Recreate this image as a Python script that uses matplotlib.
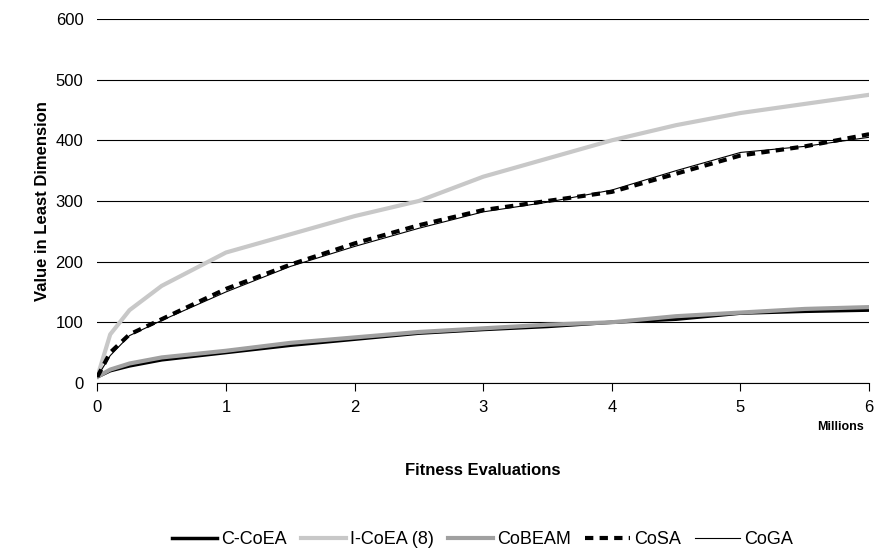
import matplotlib
matplotlib.use('Agg')
import matplotlib.pyplot as plt

plt.rcParams['font.family'] = ['Liberation Sans', 'DejaVu Sans']

evals = [0, 0.1, 0.25, 0.5, 1, 1.5, 2, 2.5, 3, 3.5, 4, 4.5, 5, 5.5, 6]
c_coea = [10, 20, 28, 38, 50, 62, 72, 82, 88, 93, 100, 105, 115, 118, 120]
i_coea = [10, 80, 120, 160, 215, 245, 275, 300, 340, 370, 400, 425, 445, 460, 475]
cobeam = [10, 22, 32, 42, 53, 66, 75, 84, 90, 96, 100, 110, 116, 122, 125]
cosa = [10, 50, 80, 105, 155, 195, 230, 260, 285, 300, 315, 345, 375, 390, 410]
coga = [10, 45, 78, 103, 150, 192, 225, 255, 282, 298, 318, 350, 380, 390, 405]

fig = plt.figure(figsize=(8.77, 5.59), dpi=100)
ax = fig.add_axes([0.111, 0.315, 0.880, 0.651])

ax.plot(evals, c_coea, color='black', lw=2.5, label='C-CoEA')
ax.plot(evals, i_coea, color='#c8c8c8', lw=3, label='I-CoEA (8)')
ax.plot(evals, cobeam, color='#a0a0a0', lw=3, label='CoBEAM')
ax.plot(evals, cosa, color='black', lw=3, ls=(0, (2, 1.5)), label='CoSA')
ax.plot(evals, coga, color='black', lw=0.8, label='CoGA')

ax.set_xlim(0, 6)
ax.set_ylim(0, 600)
ax.set_yticks(range(0, 601, 100))
ax.set_xticks(range(0, 7))
ax.yaxis.grid(True, color='black', lw=0.8)
ax.set_axisbelow(True)
for s in ['top', 'right', 'left']:
    ax.spines[s].set_visible(False)
ax.tick_params(axis='y', length=0, labelsize=12, pad=10)
ax.tick_params(axis='x', direction='out', length=6, labelsize=12, pad=6)

ax.set_ylabel('Value in Least Dimension', fontsize=12, fontweight='bold')
ax.set_xlabel('Fitness Evaluations', fontsize=12, fontweight='bold', labelpad=35)
ax.text(5.96, -62, 'Millions', fontsize=9, fontweight='bold', ha='right', va='top')

fig.legend(loc='lower center', ncol=5, frameon=False, fontsize=13,
           bbox_to_anchor=(0.55, -0.01), handlelength=2.5, handletextpad=0.2,
           columnspacing=0.8)

fig.savefig('out.png', dpi=100)
